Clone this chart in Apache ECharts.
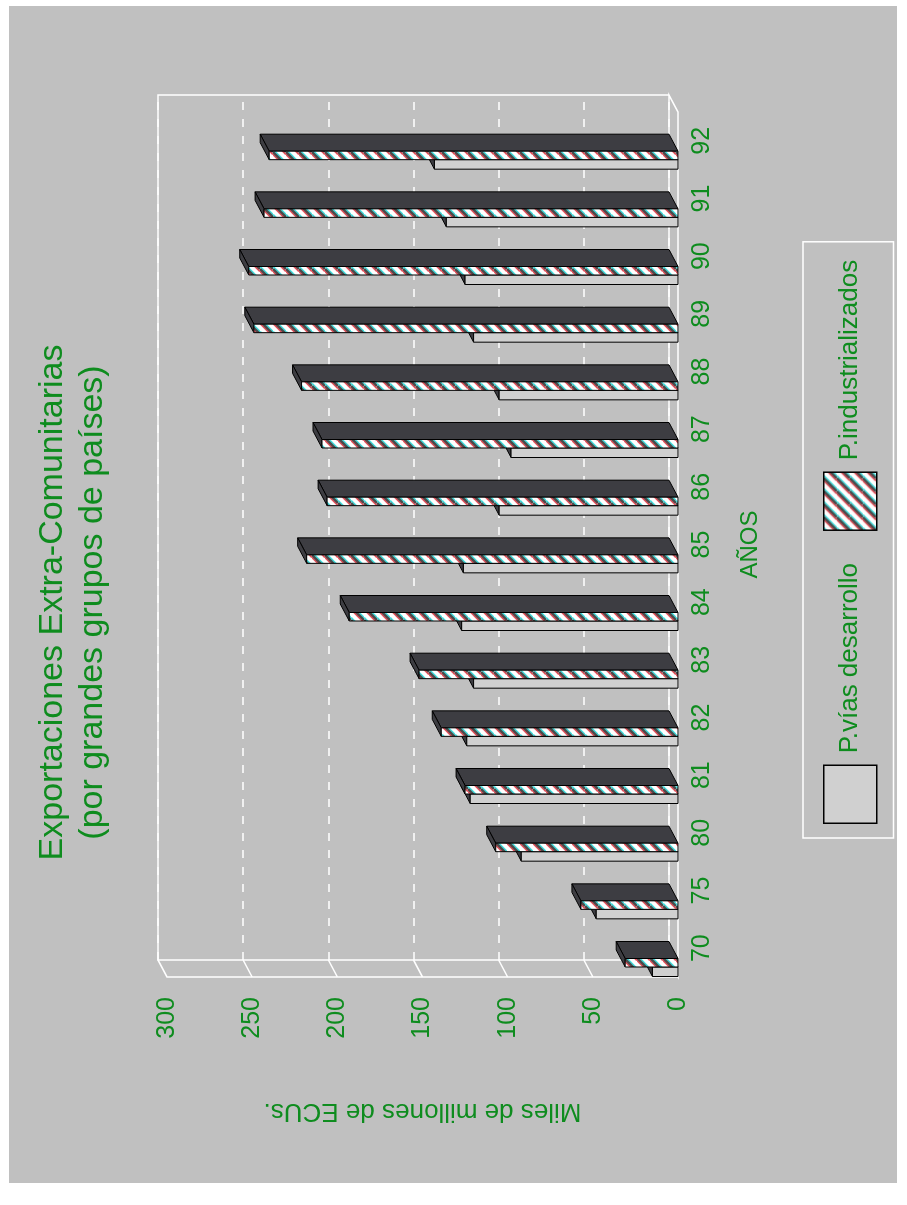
<!DOCTYPE html>
<html>
<head>
<meta charset="utf-8">
<script src="https://cdn.jsdelivr.net/npm/echarts@6/dist/echarts.min.js"></script>
<style>
  html, body { margin: 0; padding: 0; background: #ffffff; width: 907px; height: 1205px; overflow: hidden; }
  #paper { position: absolute; left: 9px; top: 6px; width: 888px; height: 1177px; background: #c0c0c0; }
  /* the chart is laid out landscape and turned a quarter turn counter-clockwise */
  #chart { position: absolute; left: 0; top: 0; width: 1205px; height: 907px;
           transform-origin: 0 0; transform: translate(0px, 1205px) rotate(-90deg); }
</style>
</head>
<body>
<div id="paper"></div>
<div id="chart"></div>
<script>
// Exportaciones extra-comunitarias, miles de millones de ECUs
const years = ['70', '75', '80', '81', '82', '83', '84', '85', '86', '87', '88', '89', '90', '91', '92'];
const viasDesarrollo = [15, 48, 92, 122, 124, 120, 127, 126, 105, 98, 105, 120, 125, 136, 143];
const industrializados = [31, 57, 107, 125, 139, 152, 193, 218, 206, 209, 221, 249, 252, 243, 240];
const valueTicks = [0, 50, 100, 150, 200, 250, 300];

const GREEN = '#0e8c1e';
const FONT = '"Liberation Sans", Arial, sans-serif';
const DARK = '#3d3d42';
const LIGHT = '#d0d0d0';
// depth of the 3D box (back wall offset)
const DX = 17, DY = -9;
const vMin = valueTicks[0], vMax = valueTicks[valueTicks.length - 1];
const vStep = valueTicks[1] - valueTicks[0];

function hatchPattern() {
  const s = 13;
  const c = document.createElement('canvas');
  c.width = c.height = s;
  const g = c.getContext('2d');
  g.fillStyle = '#ffffff';
  g.fillRect(0, 0, s, s);
  const stripe = (dx, color, w) => {
    g.strokeStyle = color; g.lineWidth = w;
    for (let k = -1; k <= 1; k++) {
      g.beginPath();
      g.moveTo(k * s + dx, s);
      g.lineTo(k * s + dx + s, 0);
      g.stroke();
    }
  };
  stripe(-2.4, '#e0505a', 1.8);
  stripe(2.4, '#40dada', 1.8);
  stripe(0, '#4a4a4a', 2.4);
  return { image: c, repeat: 'repeat' };
}
const HATCH = hatchPattern();

function renderFrame(params, api) {
  const n = years.length;
  const band = api.size([1, 0])[0];
  const p0 = api.coord([0, vMin]);
  const pN = api.coord([n - 1, vMin]);
  const left = p0[0] - band / 2, right = pN[0] + band / 2;
  const bottom = p0[1];
  const top = api.coord([0, vMax])[1];
  const line = pts => ({ type: 'polyline', shape: { points: pts },
    style: { stroke: '#ffffff', lineWidth: 1.5, fill: null } });
  const children = [
    line([[left + DX, bottom + DY], [left + DX, top + DY], [right + DX, top + DY], [right + DX, bottom + DY]]),
    line([[left + DX, bottom + DY], [right + DX, bottom + DY], [right, bottom], [left, bottom], [left + DX, bottom + DY]]),
    line([[left + DX, top + DY], [left, top], [left, bottom]])
  ];
  valueTicks.forEach(t => {
    if (t > vMin && t < vMax) {
      const y = api.coord([0, t])[1];
      children.push(line([[left, y], [left + DX, y + DY]]));
    }
  });
  return { type: 'group', children };
}

function barRenderer(offset, width, frontFill, depthFill) {
  return function (params, api) {
    const i = api.value(0), v = api.value(1);
    const band = api.size([1, 0])[0];
    const base = api.coord([i, vMin]);
    const tip = api.coord([i, v]);
    const x0 = base[0] - band / 2 + offset, x1 = x0 + width;
    const yB = base[1], yT = tip[1];
    const edge = { stroke: '#000000', lineWidth: 1 };
    return {
      type: 'group',
      children: [
        { type: 'polygon', shape: { points: [[x1, yB], [x1 + DX, yB + DY], [x1 + DX, yT + DY], [x1, yT]] },
          style: Object.assign({ fill: depthFill }, edge) },
        { type: 'polygon', shape: { points: [[x0, yT], [x0 + DX, yT + DY], [x1 + DX, yT + DY], [x1, yT]] },
          style: Object.assign({ fill: depthFill }, edge) },
        { type: 'rect', shape: { x: x0, y: yT, width: width, height: yB - yT },
          style: Object.assign({ fill: frontFill }, edge) }
      ]
    };
  };
}

const chart = echarts.init(document.getElementById('chart'), null, { renderer: 'canvas' });
chart.setOption({
  animation: false,
  backgroundColor: 'transparent',
  title: {
    text: 'Exportaciones Extra-Comunitarias',
    subtext: '(por grandes grupos de países)',
    left: 'center',
    top: 36,
    padding: 0,
    itemGap: 6,
    textStyle: { color: GREEN, fontSize: 34, fontWeight: 'normal', fontFamily: FONT, lineHeight: 34 },
    subtextStyle: { color: GREEN, fontSize: 34, fontFamily: FONT, lineHeight: 34 }
  },
  legend: {
    left: 367,
    top: 803,
    padding: [20, 18, 16, 14],
    itemGap: 32,
    itemWidth: 58,
    itemHeight: 53,
    borderColor: '#ffffff',
    borderWidth: 1.5,
    textStyle: { color: GREEN, fontSize: 26, fontFamily: FONT, padding: [0, 0, 0, 7] },
    data: [
      { name: 'P.vías desarrollo', icon: 'rect', itemStyle: { color: LIGHT, borderColor: '#000', borderWidth: 1.5 } },
      { name: 'P.industrializados', icon: 'rect', itemStyle: { color: HATCH, borderColor: '#000', borderWidth: 1.5 } }
    ]
  },
  grid: [
    { left: 228, top: 167, width: 865, height: 511 },
    { left: 228 + DX, top: 167 + DY, width: 865, height: 511 }
  ],
  xAxis: [
    {
      gridIndex: 0, type: 'category', data: years,
      axisLine: { show: false }, axisTick: { show: false },
      axisLabel: { color: GREEN, fontSize: 25, fontFamily: FONT, margin: 12 },
      name: 'AÑOS', nameLocation: 'middle', nameGap: 60,
      nameTextStyle: { color: GREEN, fontSize: 24, fontFamily: FONT }
    },
    { gridIndex: 1, type: 'category', data: years, show: false }
  ],
  yAxis: [
    {
      gridIndex: 0, type: 'value', min: vMin, max: vMax, interval: vStep,
      axisLine: { show: false }, axisTick: { show: false }, splitLine: { show: false },
      axisLabel: { color: GREEN, fontSize: 25, fontFamily: FONT, margin: 20 },
      name: 'Miles de millones de ECUs.', nameLocation: 'middle', nameGap: 121, nameRotate: 90,
      nameTextStyle: { color: GREEN, fontSize: 26, fontFamily: FONT }
    },
    {
      gridIndex: 1, type: 'value', min: vMin, max: vMax, interval: vStep,
      axisLine: { show: false }, axisTick: { show: false }, axisLabel: { show: false },
      splitLine: { show: true, lineStyle: { color: '#ffffff', width: 1.5, type: [8, 9] } }
    }
  ],
  series: [
    {
      type: 'custom', name: 'frame', xAxisIndex: 0, yAxisIndex: 0, z: 1, silent: true,
      renderItem: renderFrame, data: [[0, 0]]
    },
    {
      type: 'custom', name: 'P.vías desarrollo', xAxisIndex: 0, yAxisIndex: 0, z: 2,
      itemStyle: { color: LIGHT },
      renderItem: barRenderer(0.5, 9.5, LIGHT, DARK),
      encode: { x: 0, y: 1 },
      data: viasDesarrollo.map((v, i) => [i, v])
    },
    {
      type: 'custom', name: 'P.industrializados', xAxisIndex: 0, yAxisIndex: 0, z: 3,
      itemStyle: { color: '#888888' },
      renderItem: barRenderer(10, 8.5, HATCH, DARK),
      encode: { x: 0, y: 1 },
      data: industrializados.map((v, i) => [i, v])
    }
  ]
});
</script>
</body>
</html>
